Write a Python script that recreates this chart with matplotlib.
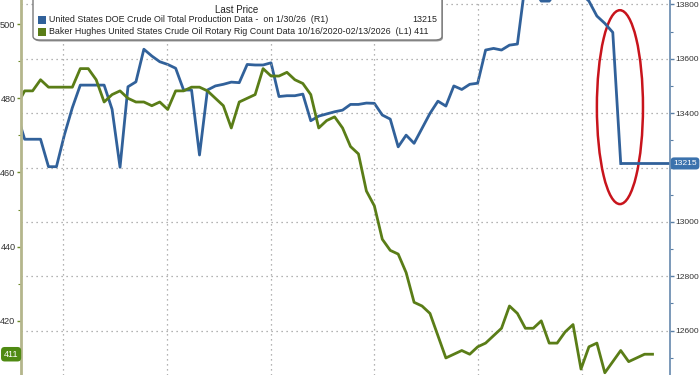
import numpy as np
import matplotlib.pyplot as plt
from matplotlib.patches import Ellipse, FancyBboxPatch, Rectangle

plt.rcParams['font.family'] = ['Liberation Sans', 'DejaVu Sans']

# weekly values (first point sits just left of the axis)
rig_count = [478, 482, 482, 485, 483, 483, 483, 483, 488, 488,
             485, 479, 481, 482, 480, 479, 479, 478, 479, 477,
             482, 482, 483, 483, 482, 480, 478, 472, 479, 480,
             481, 488, 486, 486, 487, 485, 484, 481, 472, 474,
             475, 472, 467, 465, 455, 451, 442, 439, 438, 433,
             425, 424, 422, 416, 410, 411, 412, 411, 413, 414,
             416, 418, 424, 422, 418, 418, 420, 414, 414, 417,
             419, 407, 413, 414, 406, 409, 412, 409, 410, 411, 411]
production = [13400, 13304, 13304, 13304, 13203, 13203, 13320, 13420, 13503, 13503,
              13503, 13503, 13414, 13201, 13497, 13515, 13635, 13610, 13589, 13579,
              13565, 13485, 13485, 13246, 13485, 13500, 13506, 13514, 13512, 13579,
              13577, 13577, 13585, 13461, 13464, 13464, 13470, 13372, 13389, 13397,
              13405, 13411, 13432, 13432, 13437, 13436, 13393, 13378, 13276, 13319,
              13289, 13344, 13399, 13444, 13426, 13500, 13487, 13506, 13510, 13632,
              13638, 13632, 13650, 13654, 13880, 13860, 13812, 13812, 13850, 13860,
              13850, 13840, 13812, 13757, 13730, 13697, 13215]
weeks_rig = np.arange(-1, len(rig_count) - 1)
weeks_prod = np.arange(-1, len(production) - 1)

left_ticks = [420, 440, 460, 480, 500]
right_ticks = [12600, 12800, 13000, 13200, 13400, 13600, 13800]
right_labels = ['12600', '12800', '13000', '', '13400', '13600', '13800']

prod_label = 'United States DOE Crude Oil Total Production Data -  on 1/30/26  (R1)'
rig_label = 'Baker Hughes United States Crude Oil Rotary Rig Count Data 10/16/2020-02/13/2026  (L1)'

GREEN = '#5a7d17'
BLUE = '#31619a'

fig = plt.figure(figsize=(7, 3.75), dpi=100)
ax = fig.add_axes([21 / 700, 0, 649 / 700, 1])
ax2 = ax.twinx()
ax.set_zorder(ax2.get_zorder() + 1)
ax.patch.set_visible(False)

xmax = 81.2
ax.set_xlim(-0.46, xmax)
ax.set_ylim(405.4, 506.5)
ax2.set_ylim(12437, 13816)

# grid
ax.set_xticks(np.arange(4.8, 80, 13.07))
ax.tick_params(axis='x', length=0, labelbottom=False)
ax.grid(axis='x', color='#9a9a9a', linestyle=(0, (1, 3)), linewidth=0.9)
ax2.set_axisbelow(True)
ax2.grid(axis='y', color='#9a9a9a', linestyle=(0, (1, 3)), linewidth=0.9)

# lines
ax.plot(weeks_rig, rig_count, color=GREEN, lw=2)
ax2.plot(weeks_prod, production, color=BLUE, lw=2)
ax2.plot([weeks_prod[-1], xmax], [production[-1], production[-1]], color=BLUE, lw=2)

# red ellipse highlight
ax2.add_patch(Ellipse((74.9, 13422), 5.8, 713, fill=False, edgecolor='#c8141c', lw=1.8))

# spines / ticks
for s in ['top', 'bottom', 'right']:
    ax.spines[s].set_visible(False)
for s in ['top', 'bottom', 'left']:
    ax2.spines[s].set_visible(False)
ax.spines['left'].set_color('#b4b68c')
ax.spines['left'].set_linewidth(2)
ax2.spines['right'].set_color('#7191b3')
ax2.spines['right'].set_linewidth(1.3)

ax.set_yticks(left_ticks)
ax.set_yticks(np.arange(410, 506, 10), minor=True)
ax.tick_params(axis='y', which='major', length=3, width=1, color='#6e8a2a',
               labelsize=6.6, labelcolor='#333333', pad=1)
ax.tick_params(axis='y', which='minor', length=2, width=0.8, color='#6e8a2a')

ax2.set_yticks(right_ticks)
ax2.set_yticklabels(right_labels)
ax2.set_yticks(np.arange(12500, 13816, 100), minor=True)
ax2.tick_params(axis='y', which='major', length=3, width=1, color='#5b7fa5',
                labelsize=6.1, labelcolor='#333333', pad=1)
ax2.tick_params(axis='y', which='minor', length=2, width=0.8, color='#5b7fa5')

# last value badges
ax.text(-0.004, rig_count[-1], str(rig_count[-1]), transform=ax.get_yaxis_transform(),
        ha='right', va='center', fontsize=6.6, color='white', clip_on=False,
        bbox=dict(boxstyle='round,pad=0.3,rounding_size=0.4', fc='#4f8a12', ec='none'))
ax2.text(1.005, production[-1], str(production[-1]), transform=ax2.get_yaxis_transform(),
         ha='left', va='center', fontsize=6.1, color='white', clip_on=False,
         bbox=dict(boxstyle='round,pad=0.3,rounding_size=0.4', fc='#3b72ad', ec='none'))

# legend box (figure pixel coords)
def fx(px):
    return px / 700

def fy(py):
    return 1 - py / 375

shadow = FancyBboxPatch((fx(34), fy(41.5)), fx(409), 0.2, transform=fig.transFigure,
                        boxstyle='round,pad=0,rounding_size=0.01', fc='#9a9a9a',
                        ec='none', zorder=9)
fig.patches.append(shadow)
box = FancyBboxPatch((fx(33), fy(40)), fx(409), 0.2, transform=fig.transFigure,
                     boxstyle='round,pad=0,rounding_size=0.01', fc='white',
                     ec='#7a7a7a', lw=1.0, zorder=10)
fig.patches.append(box)
fig.text(fx(237), fy(10), 'Last Price', ha='center', va='center', fontsize=7, color='#222222', zorder=11)
fig.patches.append(Rectangle((fx(38), fy(23.5)), fx(8), 8 / 375, transform=fig.transFigure,
                             fc=BLUE, ec='none', zorder=11))
fig.patches.append(Rectangle((fx(38), fy(35.5)), fx(8), 8 / 375, transform=fig.transFigure,
                             fc=GREEN, ec='none', zorder=11))
fig.text(fx(49), fy(19.5), prod_label, ha='left', va='center', fontsize=6.4, color='#222222', zorder=11)
fig.text(fx(437), fy(19.5), str(production[-1]), ha='right', va='center', fontsize=6.4, color='#222222', zorder=11)
fig.text(fx(49), fy(31.5), rig_label + ' ' + str(rig_count[-1]), ha='left', va='center',
         fontsize=6.4, color='#222222', zorder=11)

fig.savefig('out.png', dpi=100)
